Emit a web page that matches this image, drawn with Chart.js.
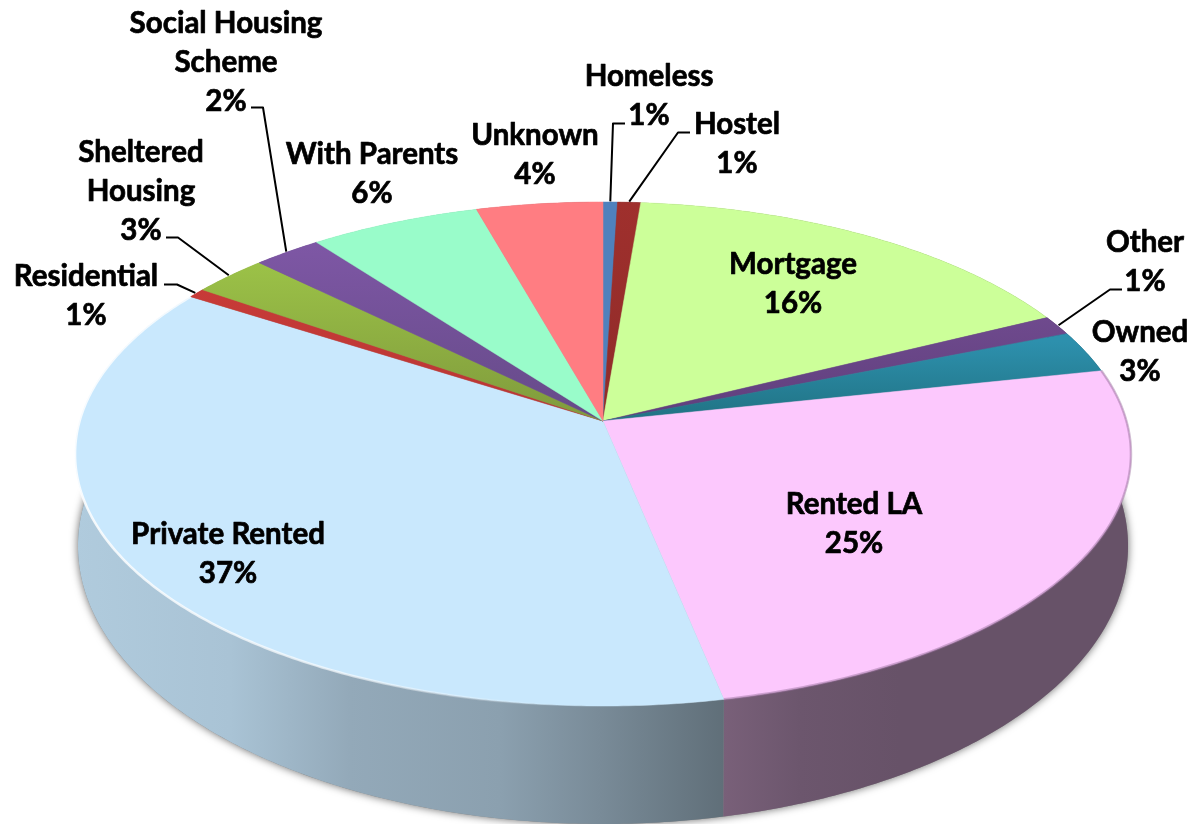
<!DOCTYPE html>
<html>
<head>
<meta charset="utf-8">
<style>html,body{margin:0;padding:0;background:#fff}canvas{display:block}</style>
<script src="https://cdn.jsdelivr.net/npm/chart.js@4/dist/chart.umd.min.js"></script>
</head>
<body>
<canvas id="c" width="1188" height="824"></canvas>
<script>
// Data, clockwise from 12 o'clock
const categories = ['Homeless','Hostel','Mortgage','Other','Owned','Rented LA','Private Rented','Residential','Sheltered Housing','Social Housing Scheme','With Parents','Unknown'];
const shares = [0.5,0.8,16.42,1.25,2.69,25.11,37.25,0.61,2.64,2.39,5.94,4.39];
const sliceColors = ['#4f81bd','#a0302d','#ccff99','#6f4a8e','#2d90ad','#fcc8fd','#c9e8fd','#c83b38','#9bc147','#7e57a5','#99fcca','#ff7d82'];
const sliceDeep   = ['#4f81bd','#8f2b29','#ccff99','#5f3f7c','#207283','#fcc8fd','#c9e8fd','#b83634','#7f9a3c','#654a88','#99fcca','#ff7d82'];

// Label placement (centre x, first line y, line pitch) and leaders
const labelBreaks = {'Social Housing Scheme':['Social Housing','Scheme'],'Sheltered Housing':['Sheltered','Housing']};
const labelAt = {
  'Homeless':[649,76],'Hostel':[737,124],'Mortgage':[793,264],'Other':[1145,242],'Owned':[1140,332],
  'Rented LA':[854,504],'Private Rented':[228,534],'Residential':[86,276],'Sheltered Housing':[141,152],
  'Social Housing Scheme':[226,23],'With Parents':[372,154],'Unknown':[535,135]
};
const leaderAt = {
  'Homeless':[625,613,123.5],'Hostel':[690,678,132.5],'Other':[1122,1110,289.5],
  'Residential':[164,177,284.5],'Sheltered Housing':[166,178,237.5],'Social Housing Scheme':[251,263,107.5]
};
const LINE_PITCH = 39;
const FONT = 'bold 29.5px Lato, "Open Sans", sans-serif';

// Perspective of the disc
const K = -0.131;
const topFace  = {a:523.4, b:247.7, dy:0};
const baseFace = {a:520.5, b:273.2, dy:88.6};
const wallLight = [[75,.875],[230,.84],[350,.73],[500,.69],[600,.6],[723,.48],[800,.43],[900,.41],[1132,.41]];

function proj(arc, ang, face, grow){
  const u=Math.cos(ang), v=Math.sin(ang), w=1+K*v, g=grow||1;
  return [arc.x+g*face.a*u/w, arc.y+face.dy+g*face.b*v/w];
}
function shade(hex,f){
  const n=parseInt(hex.slice(1),16);
  return `rgb(${Math.round((n>>16&255)*f)},${Math.round((n>>8&255)*f)},${Math.round((n&255)*f)})`;
}
function rim(ctx,arc,a0,a1,face,first){
  const steps=Math.max(2,Math.ceil(Math.abs(a1-a0)/0.01));
  for(let i=0;i<=steps;i++){
    const p=proj(arc,a0+(a1-a0)*i/steps,face);
    if(first&&i===0)ctx.moveTo(p[0],p[1]);else ctx.lineTo(p[0],p[1]);
  }
}
function rimPaint(ctx,name){
  if(name==='Private Rented'){
    const g=ctx.createLinearGradient(75,0,560,0);
    g.addColorStop(0,'rgba(255,255,255,.85)');g.addColorStop(.55,'rgba(255,255,255,.6)');g.addColorStop(1,'rgba(255,255,255,0)');
    return g;
  }
  if(name==='Rented LA')return 'rgba(150,110,155,.45)';
  return null;
}
const disc3d = {
  id:'disc3d',
  beforeDatasetDraw(chart,args){
    const ctx=chart.ctx, arcs=args.meta.data, colors=chart.data.datasets[0].backgroundColor;
    const a0=arcs[0];
    // soft shadow under the base
    ctx.save();
    ctx.shadowColor='rgba(0,0,0,.6)';ctx.shadowBlur=9;ctx.fillStyle='#888';
    ctx.beginPath();rim(ctx,a0,0,Math.PI*2,baseFace,true);ctx.closePath();ctx.fill();
    ctx.restore();
    // walls
    arcs.forEach((arc,i)=>{
      const g=ctx.createLinearGradient(75,0,1132,0);
      wallLight.forEach(s=>g.addColorStop((s[0]-75)/1057,shade(colors[i],s[1])));
      ctx.fillStyle=g;
      ctx.beginPath();
      rim(ctx,arc,arc.startAngle,arc.endAngle,topFace,true);
      rim(ctx,arc,arc.endAngle,arc.startAngle,baseFace,false);
      ctx.closePath();ctx.fill();
    });
    // top face
    arcs.forEach((arc,i)=>{
      const mid=(arc.startAngle+arc.endAngle)/2, my=proj(arc,mid,topFace)[1];
      const gs=ctx.createLinearGradient(0,Math.min(my,arc.y)-10,0,arc.y);
      gs.addColorStop(0,colors[i]);gs.addColorStop(1,sliceDeep[i]);
      ctx.fillStyle=gs;ctx.strokeStyle=gs;ctx.lineWidth=.5;
      ctx.beginPath();ctx.moveTo(arc.x,arc.y);
      rim(ctx,arc,arc.startAngle,arc.endAngle,topFace,false);
      ctx.closePath();ctx.fill();ctx.stroke();
    });
    // rim bevel
    arcs.forEach((arc,i)=>{
      const c=rimPaint(ctx,chart.data.labels[i]);
      if(!c)return;
      ctx.strokeStyle=c;ctx.lineWidth=2.5;
      ctx.beginPath();rim(ctx,arc,arc.startAngle,arc.endAngle,topFace,true);ctx.stroke();
    });
    return false;
  },
  afterDatasetsDraw(chart){
    const ctx=chart.ctx, arcs=chart.getDatasetMeta(0).data, vals=chart.data.datasets[0].data;
    ctx.save();
    ctx.fillStyle='#000';ctx.strokeStyle='#000';
    ctx.font=FONT;ctx.textAlign='center';ctx.textBaseline='middle';ctx.lineJoin='round';
    chart.data.labels.forEach((name,i)=>{
      const lines=(labelBreaks[name]||[name]).concat([Math.round(vals[i])+'%']);
      const at=labelAt[name];
      ctx.lineWidth=.7;
      lines.forEach((t,j)=>{ctx.fillText(t,at[0],at[1]+j*LINE_PITCH);ctx.strokeText(t,at[0],at[1]+j*LINE_PITCH);});
      const l=leaderAt[name];
      if(l){
        ctx.lineWidth=2;
        const arc=arcs[i], e=proj(arc,(arc.startAngle+arc.endAngle)/2,topFace,1.003);
        ctx.beginPath();ctx.moveTo(l[0],l[2]);ctx.lineTo(l[1],l[2]);ctx.lineTo(e[0],e[1]);ctx.stroke();
      }
    });
    ctx.restore();
  }
};
new Chart(document.getElementById('c'),{
  type:'pie',
  data:{labels:categories,datasets:[{data:shares,backgroundColor:sliceColors,borderWidth:0}]},
  plugins:[disc3d],
  options:{
    responsive:false,animation:false,
    layout:{padding:{left:18,top:18,right:0,bottom:0}},
    plugins:{legend:{display:false},tooltip:{enabled:false}}
  }
});
</script>
</body>
</html>
